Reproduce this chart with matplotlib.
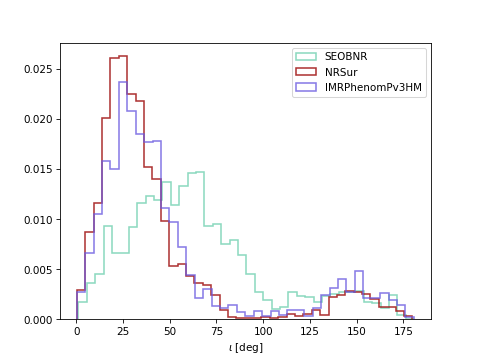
import numpy as np
import matplotlib
matplotlib.use("Agg")
import matplotlib.pyplot as plt

labels = ["SEOBNR", "NRSur", "IMRPhenomPv3HM"]

# bin ranges (deg) of each histogram, 40 bins each
seob_range = (1.2, 180.8)
nrsur_range = (0.4, 179.8)
imr_range = (0.3, 180.6)

seob_density = [0.0017, 0.0036, 0.0045, 0.0093, 0.0066, 0.0066, 0.0092, 0.0116, 0.0123, 0.0119,
                0.0137, 0.0114, 0.0133, 0.0146, 0.0147, 0.0093, 0.0095, 0.0075, 0.0079, 0.0064,
                0.0045, 0.0027, 0.0019, 0.0010, 0.0012, 0.0027, 0.0023, 0.0022, 0.0017, 0.0023,
                0.0025, 0.0027, 0.0027, 0.0028, 0.0017, 0.0016, 0.0011, 0.0024, 0.0004, 0.0000]

nrsur_density = [0.0029, 0.0087, 0.0116, 0.0201, 0.0261, 0.0263, 0.0225, 0.0218, 0.0152, 0.0140,
                 0.0098, 0.0053, 0.0055, 0.0043, 0.0036, 0.0034, 0.0024, 0.0009, 0.0002, 0.0001,
                 0.0001, 0.0001, 0.0002, 0.0001, 0.0002, 0.0005, 0.0003, 0.0005, 0.0009, 0.0004,
                 0.0022, 0.0024, 0.0028, 0.0027, 0.0025, 0.0020, 0.0012, 0.0012, 0.0008, 0.0003]

imr_density = [0.0027, 0.0066, 0.0105, 0.0158, 0.0150, 0.0237, 0.0208, 0.0185, 0.0177, 0.0178,
               0.0111, 0.0097, 0.0072, 0.0044, 0.0021, 0.0030, 0.0013, 0.0011, 0.0014, 0.0007,
               0.0003, 0.0008, 0.0003, 0.0008, 0.0004, 0.0009, 0.0009, 0.0003, 0.0011, 0.0024,
               0.0031, 0.0040, 0.0027, 0.0048, 0.0021, 0.0021, 0.0026, 0.0019, 0.0014, 0.0002]

colors = ["#66cdaa", "#a01010", "#6a5ae0"]
alphas = [0.75, 0.85, 0.8]

fig, ax = plt.subplots(figsize=(6.4, 4.8))

for rng, vals, col, a, lab in zip([seob_range, nrsur_range, imr_range],
                                  [seob_density, nrsur_density, imr_density],
                                  colors, alphas, labels):
    edges = np.linspace(rng[0], rng[1], len(vals) + 1)
    ax.hist(edges[:-1], bins=edges, weights=vals, histtype="step",
            color=col, alpha=a, lw=1.5, label=lab)

ax.set_xlabel(r"$\iota$ [deg]")
ax.legend(loc="upper right")

fig.savefig("out.png", dpi=74.85)
